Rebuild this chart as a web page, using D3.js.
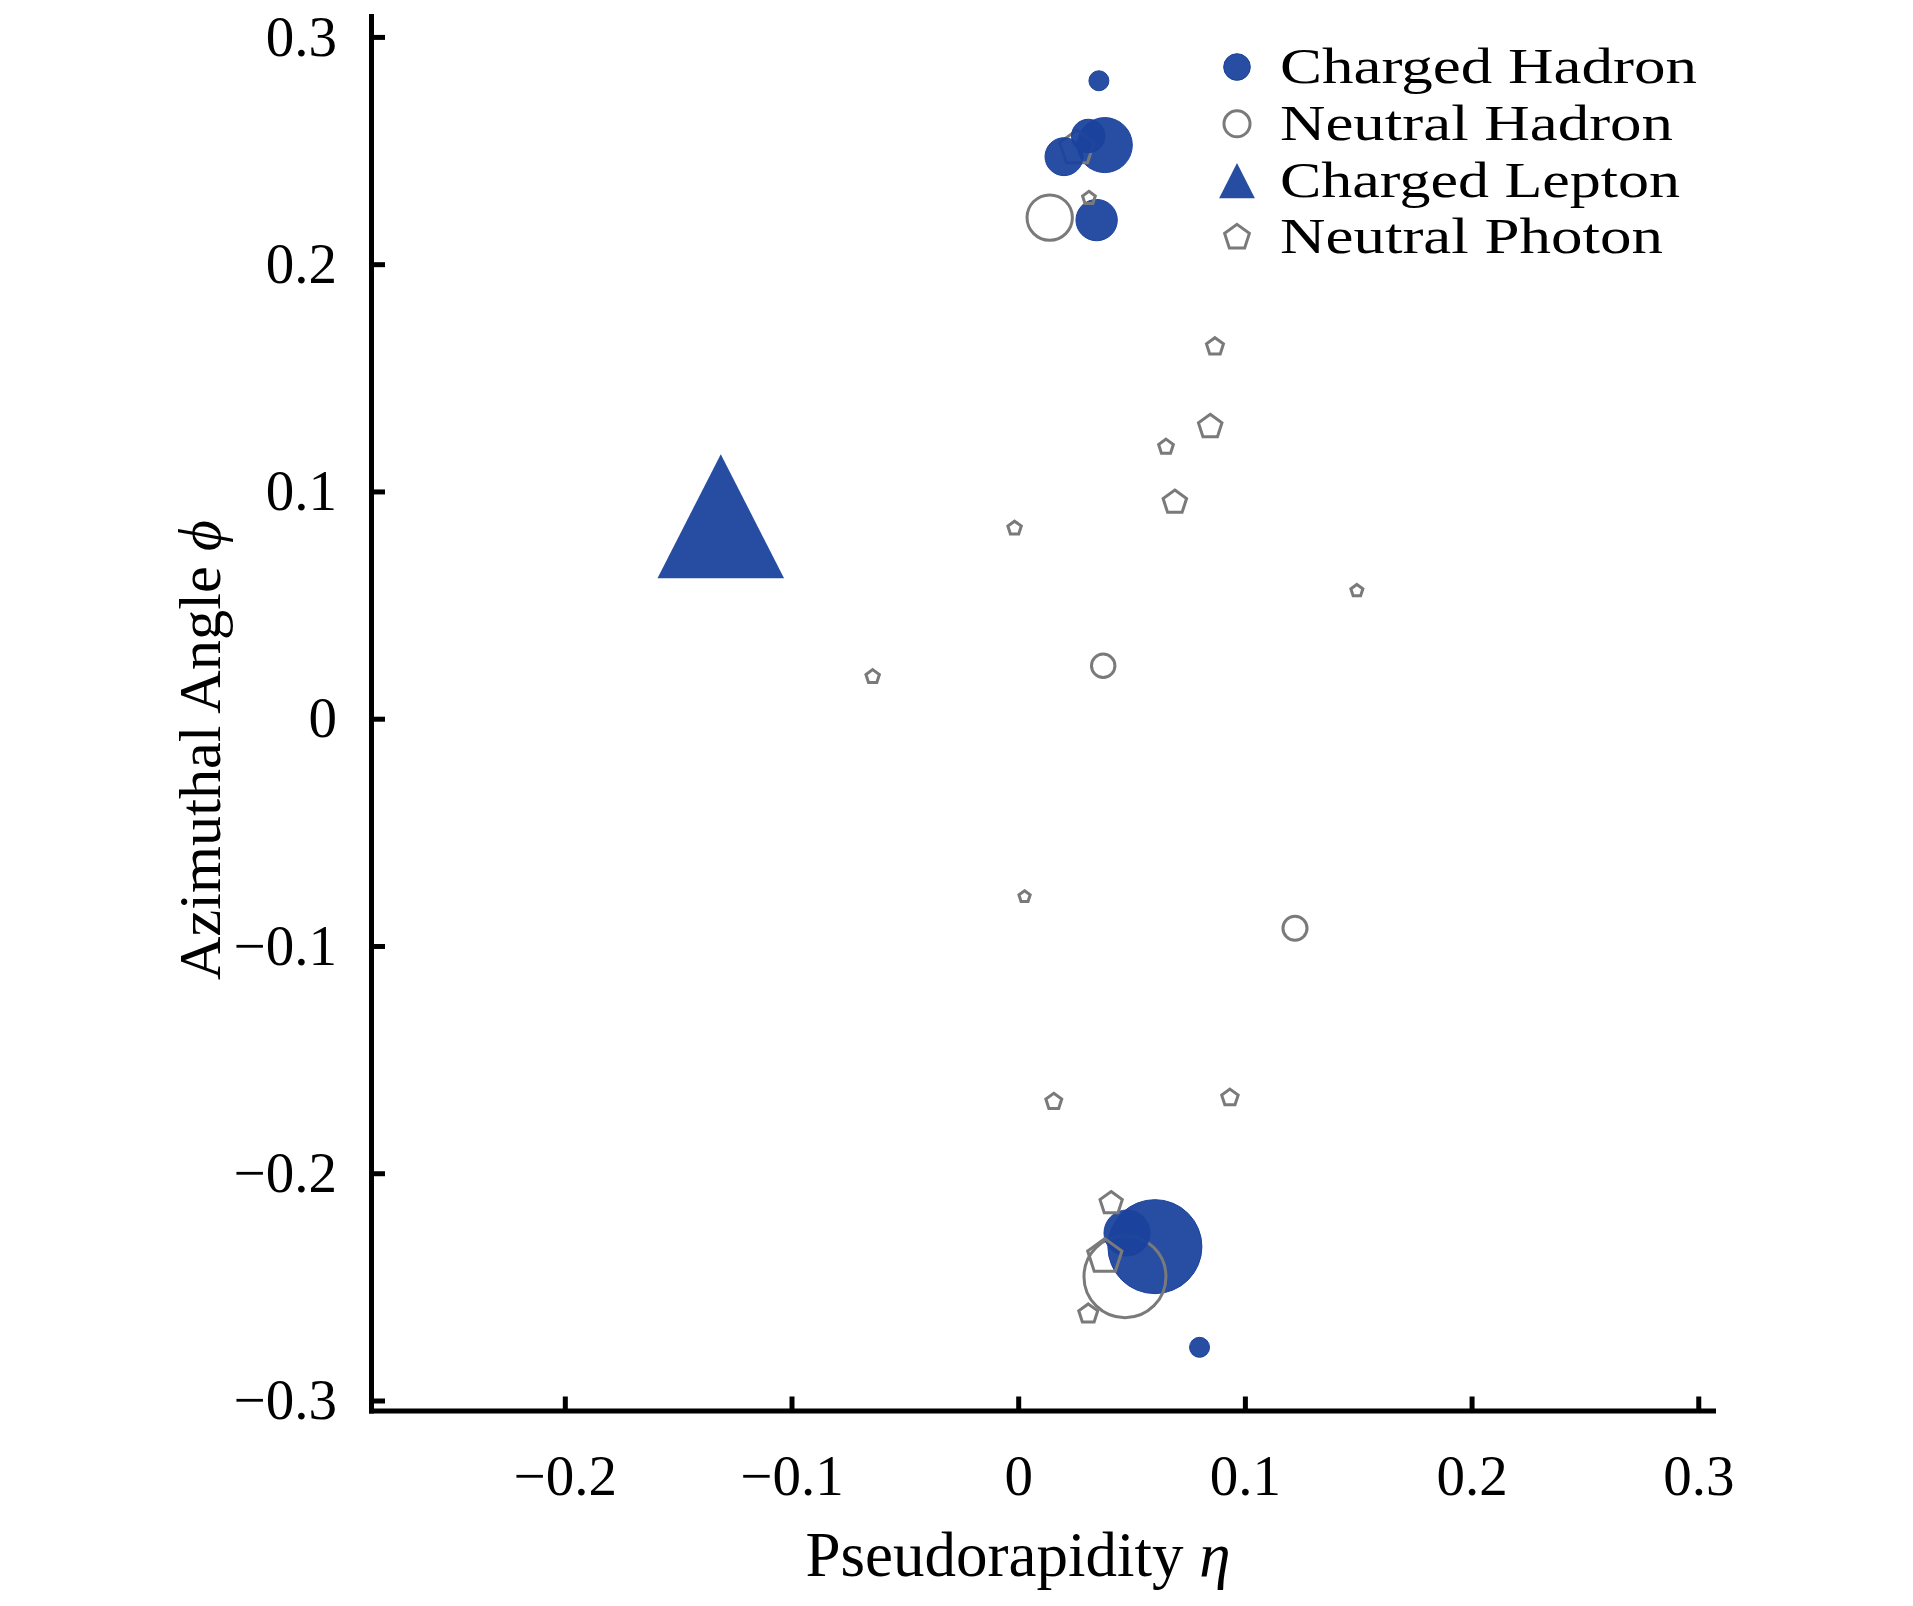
<!DOCTYPE html>
<html>
<head>
<meta charset="utf-8">
<script src="https://cdn.jsdelivr.net/npm/d3@7"></script>
<style>
  html, body { margin: 0; padding: 0; background: #fff; }
  svg { display: block; }
  text { font-family: "Liberation Serif", "Times New Roman", serif; fill: #000; }
</style>
</head>
<body>
<svg id="chart" width="1913" height="1606"></svg>
<script>
// ---------------- DATA ----------------
// particle type codes: "CH" charged hadron, "NH" neutral hadron, "CL" charged lepton, "NP" neutral photon
const particleType = [
  "CL",
  "NP","NP","NP","NP","NP","NP","NP","NP","NP","NP",
  "NH","NH",
  "CH","NP","CH","CH","CH","CH","NH","NP",
  "CH","NH","CH","NP","NP","NP","CH"
];
const eta = [
  -0.1312,
  0.0868, 0.0847, 0.0652, 0.0691, -0.0016, 0.1494, -0.0642, 0.0028, 0.0157, 0.0934,
  0.0375, 0.1221,
  0.0382, 0.0259, 0.0202, 0.0309, 0.0356, 0.0346, 0.0139, 0.0312,
  0.0603, 0.0471, 0.0480, 0.0410, 0.0382, 0.0309, 0.0800
];
const phi = [
  0.0891,
  0.1637, 0.1285, 0.1196, 0.0952, 0.0838, 0.0563, 0.0185, -0.0783, -0.1685, -0.1668,
  0.0233, -0.0922,
  0.2524, 0.2511, 0.2473, 0.2564, 0.2807, 0.2194, 0.2205, 0.2291,
  -0.2323, -0.2455, -0.2263, -0.2132, -0.2367, -0.2619, -0.2766
];
// transverse momentum (arbitrary units) -> marker size
const pt = [
  154,
  3.2, 6.1, 2.4, 6.1, 2.0, 1.6, 2.0, 1.4, 2.8, 3.0,
  5.5, 5.8,
  30.3, 13.0, 14.4, 11.2, 4.0, 17.1, 20.6, 1.8,
  88.4, 67.2, 21.2, 5.5, 13.0, 4.0, 4.0
];
const legendTypes = ["CH", "NH", "CL", "NP"];
const legendLabels = ["Charged Hadron", "Neutral Hadron", "Charged Lepton", "Neutral Photon"];
const legendPt = [7.1, 6.8, 12.3, 6.8];
const xTicks = [-0.2, -0.1, 0, 0.1, 0.2, 0.3];
const yTicks = [-0.3, -0.2, -0.1, 0, 0.1, 0.2, 0.3];
const xTitle = "Pseudorapidity";
const yTitle = "Azimuthal Angle";

// ---------------- STYLE ----------------
const BLUE = "#1b439d";
const GRAY = "#7a7a7a";
const legendTextLen = [417, 393, 400, 383];

const svg = d3.select("#chart");

const x = d3.scaleLinear().domain([-0.2855, 0.3065]).range([371, 1713]);
const y = d3.scaleLinear().domain([-0.3044, 0.3092]).range([1410.5, 16]);
const rScale = d3.scaleSqrt().domain([0, 100]).range([0, 50]);

// custom symbols: size = r^2 (r = circumradius / half-size)
const pentagon = {
  draw(ctx, size) {
    const R = Math.sqrt(size);
    for (let k = 0; k < 5; k++) {
      const a = -Math.PI / 2 + k * 2 * Math.PI / 5;
      const px = R * Math.cos(a), py = R * Math.sin(a);
      if (k === 0) ctx.moveTo(px, py); else ctx.lineTo(px, py);
    }
    ctx.closePath();
  }
};
const triangle = {
  draw(ctx, size) {
    const R = Math.sqrt(size);
    ctx.moveTo(0, -R);
    ctx.lineTo(R * 1.02, R);
    ctx.lineTo(-R * 1.02, R);
    ctx.closePath();
  }
};

function drawMarker(g, type, cx, cy, r) {
  if (type === "CH") {
    g.append("circle").attr("cx", cx).attr("cy", cy).attr("r", r)
      .attr("fill", BLUE).attr("fill-opacity", 0.94)
      .attr("stroke", BLUE).attr("stroke-width", 1);
  } else if (type === "NH") {
    g.append("circle").attr("cx", cx).attr("cy", cy).attr("r", r)
      .attr("fill", "none").attr("stroke", GRAY).attr("stroke-width", 3);
  } else if (type === "CL") {
    g.append("path").attr("transform", `translate(${cx},${cy})`)
      .attr("d", d3.symbol().type(triangle).size(r * r)())
      .attr("fill", BLUE).attr("fill-opacity", 0.95);
  } else {
    g.append("path").attr("transform", `translate(${cx},${cy})`)
      .attr("d", d3.symbol().type(pentagon).size(r * r)())
      .attr("fill", "none").attr("stroke", GRAY).attr("stroke-width", 3)
      .attr("stroke-linejoin", "miter");
  }
}

// ---------------- AXES ----------------
const fmt = d => d === 0 ? "0" : d3.format(".1f")(d);

const xAxis = svg.append("g").attr("transform", `translate(0,${y.range()[0]})`)
  .call(d3.axisBottom(x).tickValues(xTicks).tickFormat(fmt)
    .tickSizeInner(-14).tickSizeOuter(0).tickPadding(44));
const yAxis = svg.append("g").attr("transform", `translate(${x.range()[0]},0)`)
  .call(d3.axisLeft(y).tickValues(yTicks).tickFormat(fmt)
    .tickSizeInner(-14).tickSizeOuter(0).tickPadding(34));

[xAxis, yAxis].forEach(a => {
  a.select(".domain").attr("stroke", "#000").attr("stroke-width", 5)
    .attr("stroke-linecap", "square");
  a.selectAll(".tick line").attr("stroke", "#000").attr("stroke-width", 5);
  a.selectAll(".tick text").attr("font-size", 57)
    .attr("font-family", "Liberation Serif, serif").attr("fill", "#000");
});

// ---------------- MARKERS ----------------
const marks = svg.append("g");
particleType.forEach((t, i) => {
  drawMarker(marks, t, x(eta[i]), y(phi[i]), rScale(pt[i]));
});

// ---------------- LEGEND ----------------
const legend = svg.append("g");
legendTypes.forEach((t, i) => {
  const cy = 67 + i * 56.8;
  drawMarker(legend, t, 1237, cy, rScale(legendPt[i]));
  legend.append("text").attr("x", 1280).attr("y", cy + 16)
    .attr("font-size", 51)
    .attr("textLength", legendTextLen[i]).attr("lengthAdjust", "spacingAndGlyphs")
    .text(legendLabels[i]);
});

// ---------------- TITLES ----------------
const xt = svg.append("text").attr("x", 1018).attr("y", 1576)
  .attr("text-anchor", "middle").attr("font-size", 63);
xt.append("tspan").text(xTitle + " ");
xt.append("tspan").attr("font-style", "italic").text("η");

const yt = svg.append("text")
  .attr("transform", "translate(220,750) rotate(-90)")
  .attr("text-anchor", "middle").attr("font-size", 60)
  .attr("textLength", 460).attr("lengthAdjust", "spacingAndGlyphs");
yt.append("tspan").text(yTitle + " ");
yt.append("tspan").attr("font-style", "italic").text("ϕ");
</script>
</body>
</html>
